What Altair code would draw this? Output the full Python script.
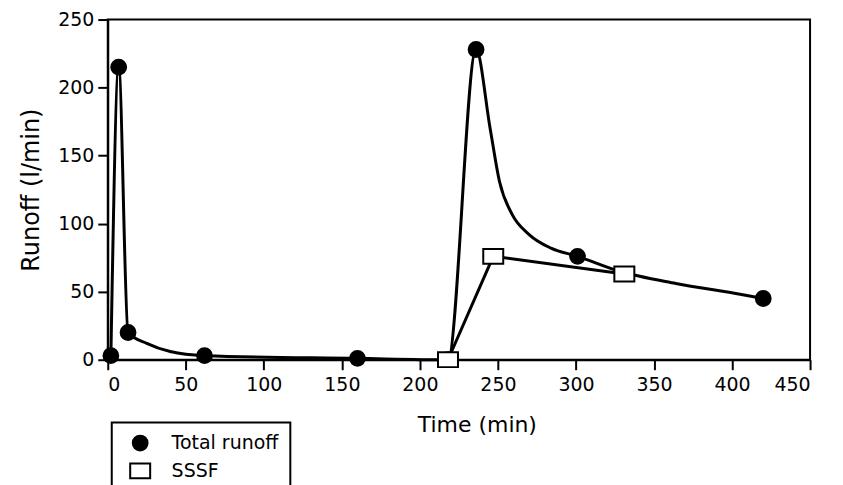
import altair as alt
import pandas as pd

# Marker data
total_time = [2, 7, 13, 62, 160, 218, 236, 301, 420]
total_runoff = [3, 215, 20, 3, 1, 0, 228, 76, 45]
sssf_time = [218, 247, 331]
sssf_runoff = [0, 76, 63]

# Traced path of the drawn curves
total_line_time = [2, 7, 13, 25, 40, 62, 160, 218, 236, 245, 251, 259, 270, 284, 301, 328, 364, 406, 420]
total_line_runoff = [3, 215, 20, 12, 6, 3, 1, 0, 228, 170, 131, 107, 92, 82, 76, 65, 56, 48, 45]
sssf_line_time = [218, 247, 331]
sssf_line_runoff = [0, 76, 63]

series_names = ["Total runoff", "SSSF"]
rect_path = "M-1.35,-1L1.35,-1L1.35,1L-1.35,1Z"

pts = pd.DataFrame(
    {"time": total_time + sssf_time,
     "runoff": total_runoff + sssf_runoff,
     "series": [series_names[0]] * len(total_time) + [series_names[1]] * len(sssf_time),
     "order": list(range(len(total_time) + len(sssf_time)))}
)
tl = pd.DataFrame({"time": total_line_time, "runoff": total_line_runoff})
sl = pd.DataFrame({"time": sssf_line_time, "runoff": sssf_line_runoff})

xs = alt.Scale(domain=[0, 450], nice=False)
ys = alt.Scale(domain=[0, 250], nice=False)

x_axis = alt.Axis(values=list(range(0, 451, 50)), title="Time (min)", grid=False,
                  tickSize=10, labelPadding=6, titlePadding=20, titleX=370, titleAlign="center")
y_axis = alt.Axis(values=list(range(0, 251, 50)), title="Runoff (l/min)", grid=False,
                  tickSize=10, labelPadding=4, titlePadding=14, titleFontSize=24)

line_total = alt.Chart(tl).mark_line(color="black", strokeWidth=3, interpolate="monotone").encode(
    x=alt.X("time:Q", scale=xs, axis=x_axis),
    y=alt.Y("runoff:Q", scale=ys, axis=y_axis),
)
line_sssf = alt.Chart(sl).mark_line(color="black", strokeWidth=3).encode(
    x=alt.X("time:Q", scale=xs),
    y=alt.Y("runoff:Q", scale=ys),
)

leg = alt.Legend(title=None, orient="none", legendX=4, legendY=404,
                 symbolStrokeWidth=2, symbolSize=220, symbolOffset=8,
                 labelFontSize=19, labelFont="DejaVu Sans", labelColor="black",
                 padding=11, rowPadding=5, labelOffset=22, strokeColor="black")

points = alt.Chart(pts).mark_point(filled=True, strokeWidth=2, opacity=1, size=220).encode(
    x=alt.X("time:Q", scale=xs),
    y=alt.Y("runoff:Q", scale=ys),
    shape=alt.Shape("series:N", scale=alt.Scale(domain=series_names, range=["circle", rect_path]), legend=leg),
    fill=alt.Fill("series:N", scale=alt.Scale(domain=series_names, range=["black", "white"]), legend=leg),
    stroke=alt.Stroke("series:N", scale=alt.Scale(domain=series_names, range=["black", "black"]), legend=leg),
    order=alt.Order("order:Q"),
)

chart = alt.layer(line_total, line_sssf, points).properties(
    width=704, height=341,
    autosize=alt.AutoSizeParams(type="none"),
    padding={"left": 100, "top": 11, "right": 25, "bottom": 125},
).configure_view(stroke="black", strokeWidth=2).configure_axis(
    domainColor="black", domainWidth=2, tickColor="black", tickWidth=2,
    labelFont="DejaVu Sans", labelFontSize=19, labelColor="black",
    titleFont="DejaVu Sans", titleFontSize=22, titleFontWeight="normal", titleColor="black",
).configure_legend(strokeWidth=2)

chart.save("out.html", embed_options={"renderer": "svg", "actions": False})
